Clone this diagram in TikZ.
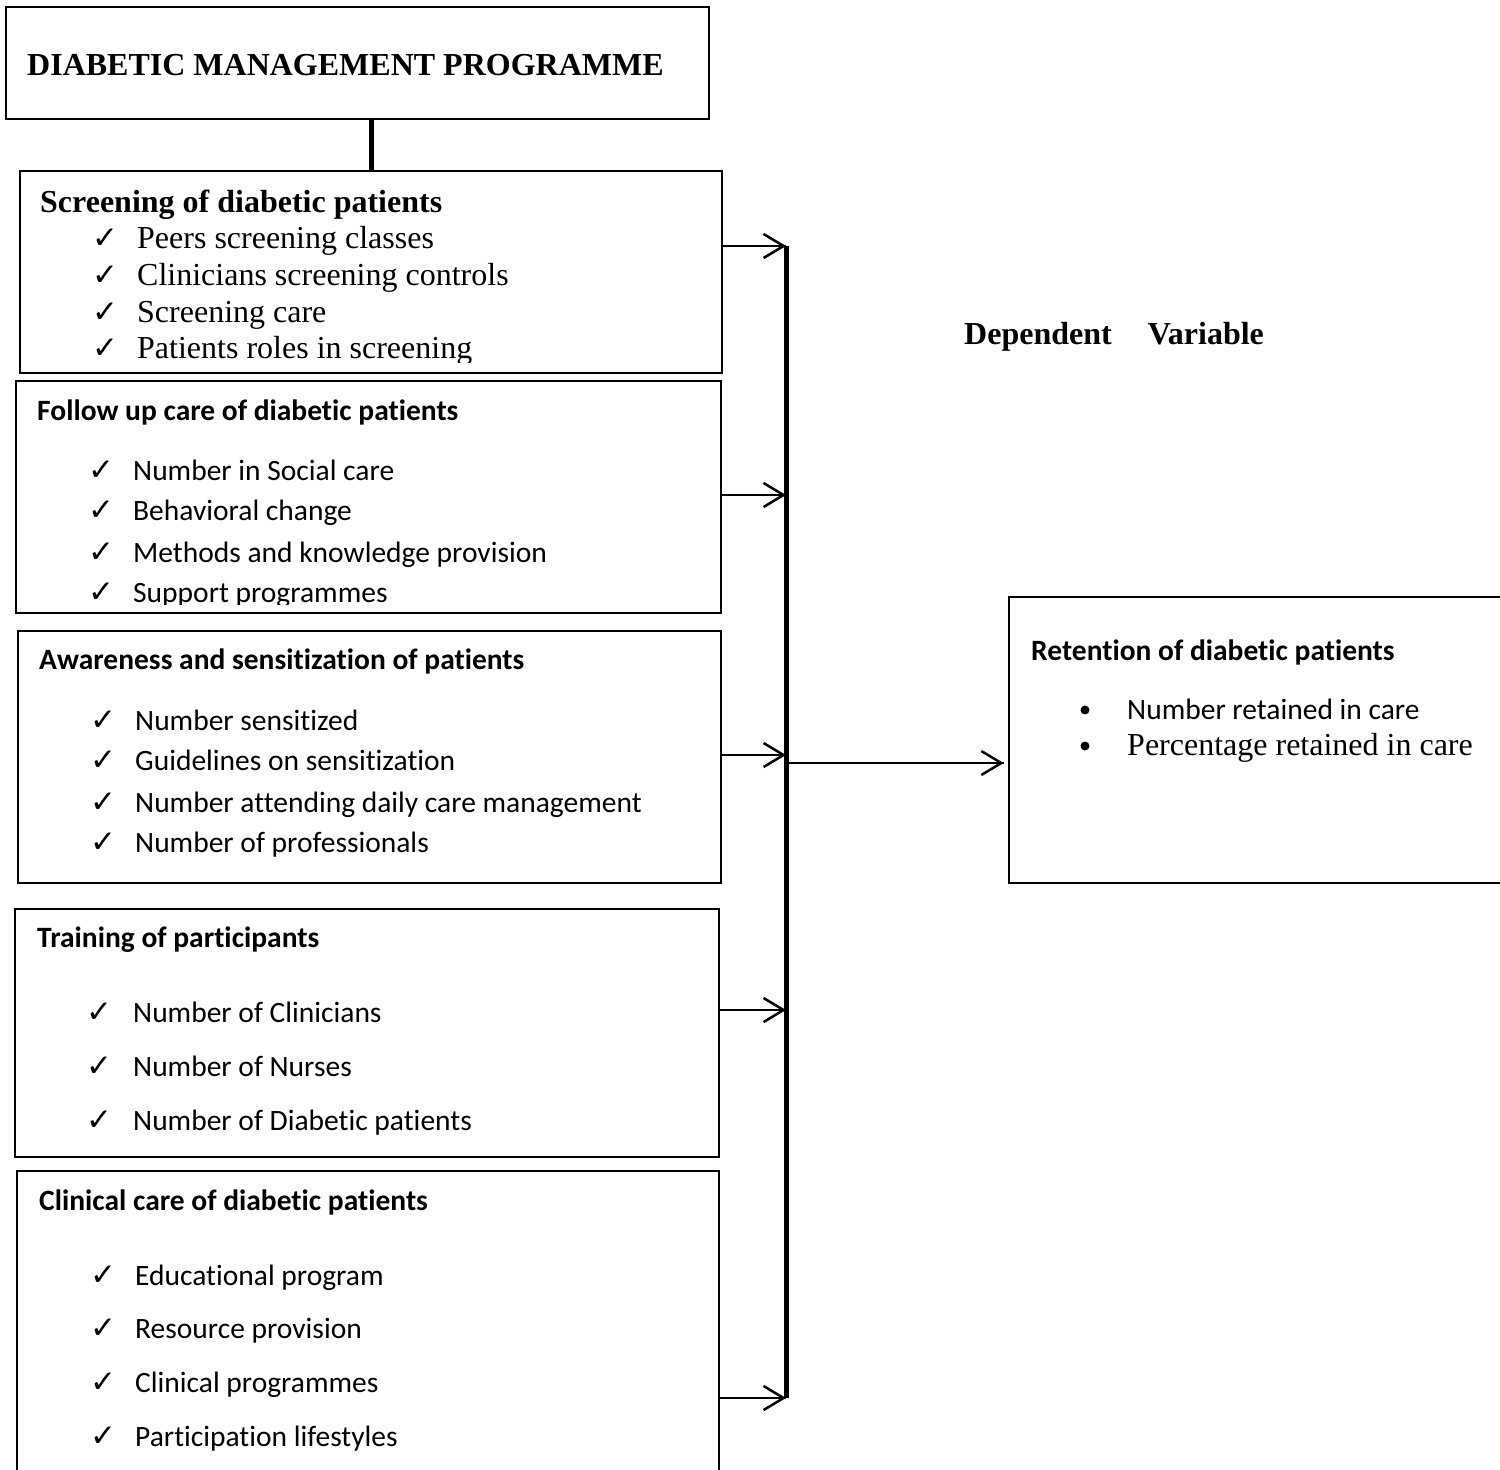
\documentclass[tikz,border=0pt]{standalone}
\usepackage{fontspec}
\setmainfont{Liberation Serif}
\newfontfamily\calibri[Ligatures=NoCommon]{Carlito}
\newfontfamily\tickfont{DejaVu Sans}
\usepackage{tikz}
\usetikzlibrary{arrows.meta}
\usetikzlibrary{decorations.markings}
\usetikzlibrary{positioning}
\tikzset{feed/.style = {line width=2.5,
                        decoration={markings,
                                    mark=at position 1 with {\arrow{Straight Barb[length=20pt,width=24pt]}}},
                        postaction={decorate}}}
\tikzset{bus/.style = {line width=5}}
\tikzset{box/.style = {draw, line width=2.5, inner sep=0}}
\tikzset{circ/.style = {fill, circle, inner sep = 0, minimum size = 9}}
\tikzset{serif/.style = {anchor=base west, inner sep=0, font=\fontsize{32}{38}\selectfont}}
\tikzset{serifb/.style = {anchor=base west, inner sep=0, font=\fontsize{32}{38}\selectfont\bfseries}}
\tikzset{cal/.style = {anchor=base west, inner sep=0, font=\calibri\fontsize{29.5}{35}\selectfont}}
\tikzset{calb/.style = {anchor=base west, inner sep=0, font=\calibri\fontsize{29.5}{35}\selectfont\bfseries}}
\tikzset{tick/.style = {anchor=base west, inner sep=0, font=\tickfont\fontsize{31}{36}\selectfont}}

\begin{document}
\begin{tikzpicture}[x=1pt, y=-1pt]
      \useasboundingbox (0, 0) rectangle (1500, 1470);

      % boxes
      \node (top) at (357.5, 63) [box, minimum width=703, minimum height=112] {};
      \node (scr) at (371, 272) [box, minimum width=702, minimum height=202] {};
      \node (fol) at (368.5, 497) [box, minimum width=705, minimum height=232] {};
      \node (awa) at (369.5, 757) [box, minimum width=703, minimum height=252] {};
      \node (trn) at (367, 1033) [box, minimum width=704, minimum height=248] {};
      \node (cli) at (368, 1330.5) [box, minimum width=702, minimum height=319] {};
      \node (ret) at (1260.5, 740) [box, minimum width=503, minimum height=286] {};

      \node (topt) at (27, 75) [serifb] {DIABETIC MANAGEMENT PROGRAMME};
      \node (dep) at (964, 344) [serifb] {Dependent\hspace{36pt}Variable};

      % screening
      \node (scrt) at (40, 212) [serifb] {Screening of diabetic patients};
      \begin{scope}
        \clip ([yshift=12pt]scr.south west) rectangle (scr.north east);
        \node (s1c) at (92, 248) [tick] {✓};
        \node (s1) at (137, 248) [serif] {Peers screening classes};
        \node (s2c) at (92, 285) [tick] {✓};
        \node (s2) at (137, 285) [serif] {Clinicians screening controls};
        \node (s3c) at (92, 322) [tick] {✓};
        \node (s3) at (137, 322) [serif] {Screening care};
        \node (s4c) at (92, 358) [tick] {✓};
        \node (s4) at (137, 358) [serif] {Patients roles in screening};
      \end{scope}

      % follow up
      \node (folt) at (37, 420) [calb] {Follow up care of diabetic patients};
      \begin{scope}
        \clip ([yshift=10pt]fol.south west) rectangle (fol.north east);
        \node (f1c) at (88, 480) [tick] {✓};
        \node (f1) at (133, 480) [cal] {Number in Social care};
        \node (f2c) at (88, 520) [tick] {✓};
        \node (f2) at (133, 520) [cal] {Behavioral change};
        \node (f3c) at (88, 562) [tick] {✓};
        \node (f3) at (133, 562) [cal] {Methods and knowledge provision};
        \node (f4c) at (88, 602) [tick] {✓};
        \node (f4) at (133, 602) [cal] {Support programmes};
      \end{scope}

      % awareness
      \node (awat) at (39, 669) [calb] {Awareness and sensitization of patients};
      \node (a1c) at (90, 730) [tick] {✓};
      \node (a1) at (135, 730) [cal] {Number sensitized};
      \node (a2c) at (90, 770) [tick] {✓};
      \node (a2) at (135, 770) [cal] {Guidelines on sensitization};
      \node (a3c) at (90, 812) [tick] {✓};
      \node (a3) at (135, 812) [cal] {Number attending daily care management};
      \node (a4c) at (90, 852) [tick] {✓};
      \node (a4) at (135, 852) [cal] {Number of professionals};

      % training
      \node (trnt) at (37, 947) [calb] {Training of participants};
      \node (t1c) at (86, 1022) [tick] {✓};
      \node (t1) at (133, 1022) [cal] {Number of Clinicians};
      \node (t2c) at (86, 1076) [tick] {✓};
      \node (t2) at (133, 1076) [cal] {Number of Nurses};
      \node (t3c) at (86, 1130) [tick] {✓};
      \node (t3) at (133, 1130) [cal] {Number of Diabetic patients};

      % clinical care
      \node (clit) at (39, 1210) [calb] {Clinical care of diabetic patients};
      \node (c1c) at (90, 1285) [tick] {✓};
      \node (c1) at (135, 1285) [cal] {Educational program};
      \node (c2c) at (90, 1338) [tick] {✓};
      \node (c2) at (135, 1338) [cal] {Resource provision};
      \node (c3c) at (90, 1392) [tick] {✓};
      \node (c3) at (135, 1392) [cal] {Clinical programmes};
      \node (c4c) at (90, 1446) [tick] {✓};
      \node (c4) at (135, 1446) [cal] {Participation lifestyles};

      % retention
      \node (rett) at (1031, 660) [calb] {Retention of diabetic patients};
      \node (r1d) at (1085, 710) [circ] {};
      \node (r1) at (1127, 719) [cal] {Number retained in care};
      \node (r2d) at (1085, 746) [circ] {};
      \node (r2) at (1127, 755) [serif] {Percentage retained in care};

      % connectors
      \coordinate (b1) at (786, 246);
      \coordinate (b2) at (786, 495);
      \coordinate (b3) at (786, 755);
      \coordinate (b4) at (786, 1010);
      \coordinate (b5) at (786, 1398);
      \coordinate (bm) at (786, 763);

      \draw [bus] (top.south -| scr.north) -- (scr.north);
      \draw [bus] (b1) -- (b5);
      \draw [feed] (scr.east |- b1) -- (b1);
      \draw [feed] (fol.east |- b2) -- (b2);
      \draw [feed] (awa.east |- b3) -- (b3);
      \draw [feed] (trn.east |- b4) -- (b4);
      \draw [feed] (cli.east |- b5) -- (b5);
      \draw [feed] (bm) -- ([xshift=-4pt]ret.west |- bm);
    \end{tikzpicture}
\end{document}
